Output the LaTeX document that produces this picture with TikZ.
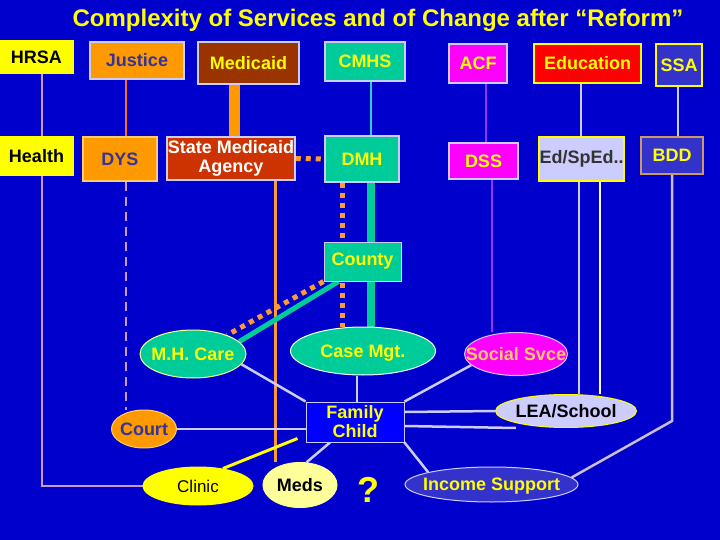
\documentclass[tikz,border=0pt]{standalone}
\usepackage{fontspec}
\setmainfont{Liberation Sans}
\usetikzlibrary{positioning, shapes.geometric, backgrounds}

\definecolor{bgblue}{HTML}{0000CC}
\definecolor{ylw}{HTML}{FFFF00}
\definecolor{lav}{HTML}{CCCCFF}
\definecolor{orng}{HTML}{FF9900}
\definecolor{dkpur}{HTML}{333399}
\definecolor{brwn}{HTML}{993300}
\definecolor{mhteal}{HTML}{00CC99}
\definecolor{mag}{HTML}{FF00FF}
\definecolor{edred}{HTML}{FF0000}
\definecolor{ssablue}{HTML}{3333CC}
\definecolor{smared}{HTML}{CC3300}
\definecolor{tanb}{HTML}{CC9966}
\definecolor{lyel}{HTML}{FFFF99}
\definecolor{famblue}{HTML}{0000FF}
\definecolor{pinkl}{HTML}{CC99CC}
\definecolor{orline}{HTML}{FF9933}
\definecolor{jline}{HTML}{FF6633}
\definecolor{cmline}{HTML}{33CCCC}
\definecolor{acfline}{HTML}{9933FF}
\definecolor{socialtxt}{HTML}{FFCC66}
\definecolor{lightor}{HTML}{FFCC66}

\newcommand{\lbl}{\fontsize{18}{19}\selectfont\bfseries}
\newcommand{\ttl}{\fontsize{24}{26}\selectfont\bfseries}

\begin{document}
\begin{tikzpicture}[x=1pt, y=-1pt,
  box/.style={draw, line width=1.5pt, inner sep=0pt, align=center, font=\lbl},
  oval/.style={ellipse, draw, line width=1pt, inner sep=0pt, inner xsep=-15pt, text depth=0pt, align=center, font=\lbl},
  link/.style={lav, line width=2.5pt}
]
  \useasboundingbox (0,0) rectangle (720,540);

  \node[text=ylw, font=\ttl] (title) at (378,20) {Complexity of Services and of Change after “Reform”};

  % agencies
  \node[box, fill=ylw, draw=ylw, minimum width=73pt, minimum height=32pt] (hrsa) at (36.5,57) {HRSA};
  \node[box, fill=orng, draw=lav, text=dkpur, minimum width=94pt, minimum height=37pt] (justice) at (137,60.5) {Justice};
  \node[box, fill=brwn, draw=lav, text=ylw, minimum width=101pt, minimum height=42pt] (medicaid) at (248.5,63) {Medicaid};
  \node[box, fill=mhteal, draw=lav, text=ylw, minimum width=80pt, minimum height=39pt] (cmhs) at (365,61.5) {CMHS};
  \node[box, fill=mag, draw=lav, text=ylw, minimum width=58pt, minimum height=39pt] (acf) at (478,63.5) {ACF};
  \node[box, fill=edred, draw=ylw, text=ylw, minimum width=107pt, minimum height=39pt] (education) at (587.5,63.5) {Education};
  \node[box, fill=ssablue, draw=ylw, text=ylw, minimum width=46pt, minimum height=42pt] (ssa) at (679,65) {SSA};

  \node[box, fill=ylw, draw=ylw, minimum width=73pt, minimum height=38pt] (health) at (36.5,156) {Health};
  \node[box, fill=orng, draw=lightor, text=dkpur, minimum width=74pt, minimum height=44pt] (dys) at (120,159) {DYS};
  \node[box, fill=smared, draw=lav, text=white, minimum width=128pt, minimum height=43pt] (sma) at (231,158.5) {State Medicaid\\Agency};
  \node[box, fill=mhteal, draw=lav, text=ylw, minimum width=74pt, minimum height=46pt] (dmh) at (362,159) {DMH};
  \node[box, fill=mag, draw=lav, text=ylw, minimum width=69pt, minimum height=36pt] (dss) at (483.5,161) {DSS};
  \node[box, fill=lav, draw=ylw, text=black!80, minimum width=85pt, minimum height=44pt] (edsped) at (581.5,159) {Ed/SpEd..};
  \node[box, fill=ssablue, draw=tanb, text=ylw, minimum width=62pt, minimum height=37pt] (bdd) at (672,155.5) {BDD};

  \node[box, fill=mhteal, draw=lav, text=ylw, line width=1pt, minimum width=77pt, minimum height=39pt] (county) at (362.5,261.5) {County};

  % services
  \node[oval, fill=mhteal, draw=lyel, text=ylw, minimum width=106pt, minimum height=48pt] (mhcare) at (193,354) {M.H. Care};
  \node[oval, fill=mhteal, draw=white, text=ylw, minimum width=145pt, minimum height=48pt] (casemgt) at (363,351) {Case Mgt.};
  \node[oval, fill=mag, draw=lav, text=socialtxt, minimum width=103pt, minimum height=43pt] (social) at (516,354) {Social Svce};
  \node[box, fill=famblue, draw=lav, text=ylw, line width=1pt, minimum width=98pt, minimum height=40pt] (family) at (355,422) {Family\\Child};
  \node[oval, fill=lav, draw=ylw, text=black, minimum width=141pt, minimum height=33pt] (lea) at (566,411) {LEA/School};
  \node[oval, fill=orng, draw=lightor, text=dkpur, minimum width=65pt, minimum height=38pt] (court) at (144,429) {Court};
  \node[oval, fill=ylw, draw=ylw, text=black, font=\fontsize{17}{18}\selectfont, minimum width=110pt, minimum height=38pt] (clinic) at (198,486) {Clinic};
  \node[oval, fill=lyel, draw=lyel, text=black, minimum width=74pt, minimum height=45pt] (meds) at (300,485) {Meds};
  \node[text=ylw, font=\fontsize{36}{38}\selectfont\bfseries] (qmark) at (368,490) {?};
  \node[oval, fill=ssablue, draw=lav, text=ylw, minimum width=173pt, minimum height=35pt] (income) at (491.5,484.5) {Income Support};

  \coordinate (bend) at (672,421);

  \begin{scope}[on background layer]
    \fill[bgblue] (0,0) rectangle (720,540);
    % top row down
    \draw[pinkl, line width=2pt] ([xshift=5.5pt]hrsa.south) -- ([xshift=5.5pt]health.north);
    \draw[pinkl, line width=2pt] ([xshift=5.5pt]health.south) |- (clinic.west);
    \draw[jline, line width=2.5pt] ([xshift=-11pt]justice.south) -- ([xshift=6pt]dys.north);
    \draw[pinkl, line width=2pt, dash pattern=on 9pt off 6pt] ([xshift=6pt]dys.south) -- ([xshift=6pt]dys.south |- court.north);
    \draw[orng, line width=11pt] ([xshift=-14.5pt]medicaid.south) -- ([xshift=-14.5pt]medicaid.south |- sma.north);
    \draw[orline, line width=5pt, dash pattern=on 5pt off 5pt] (sma.east) -- (dmh.west);
    \draw[orline, line width=3pt] ([xshift=44pt]sma.south) -- ([xshift=44pt]sma.south |- meds.north);
    \draw[cmline, line width=2pt] ([xshift=6pt]cmhs.south) -- ([xshift=9pt]dmh.north);
    \draw[mhteal, line width=8pt] ([xshift=9pt]dmh.south) -- ([xshift=9pt]dmh.south |- casemgt.north);
    \draw[orline, line width=5pt, dash pattern=on 5pt off 5pt] ([xshift=-20pt]dmh.south) -- ([xshift=-20pt]dmh.south |- casemgt.north);
    \draw[orline, line width=5pt, dash pattern=on 5pt off 5pt] (county.south west) -- (mhcare);
    \draw[mhteal, line width=5pt] ([xshift=15pt]county.south west) -- (mhcare.15);
    \draw[acfline, line width=2.5pt] ([xshift=8pt]acf.south) -- ([xshift=2.5pt]dss.north);
    \draw[acfline, line width=2.5pt] ([xshift=8.5pt]dss.south) -- ([xshift=8.5pt]dss.south |- social.north);
    \draw[link] ([xshift=-6.5pt]education.south) -- ([xshift=-0.5pt]edsped.north);
    \draw[link] ([xshift=-2.5pt]edsped.south) -- ([xshift=-2.5pt]edsped.south |- lea.north);
    \draw[link, white!90!lav] ([xshift=18.5pt]edsped.south) -- ([xshift=18.5pt]edsped.south |- lea.north);
    \draw[link] ([xshift=-1pt]ssa.south) -- ([xshift=6pt]bdd.north);
    \draw[link, lav!70!tanb] (bdd.south) -- (bend) -- (income.5);
    % round the family
    \draw[link] (mhcare.-12) -- (family.north west);
    \draw[link] ([xshift=2pt]family.north |- casemgt.south) -- ([xshift=2pt]family.north);
    \draw[link] (social.194) -- (family.north east);
    \draw[link] (court.east) -- (court.east -| family.west);
    \draw[link] ([yshift=10pt]family.east) -- (lea.west);
    \draw[link] ([yshift=-4pt]family.east) -- ([xshift=-50pt]lea.south);
    \draw[link] ([xshift=-25pt]family.south) -- (meds.74);
    \draw[link] (family.south east) -- (income.169);
    \draw[ylw, line width=3pt] (clinic.35) -- ([xshift=-8pt,yshift=4pt]family.south west);
  \end{scope}
\end{tikzpicture}
\end{document}
